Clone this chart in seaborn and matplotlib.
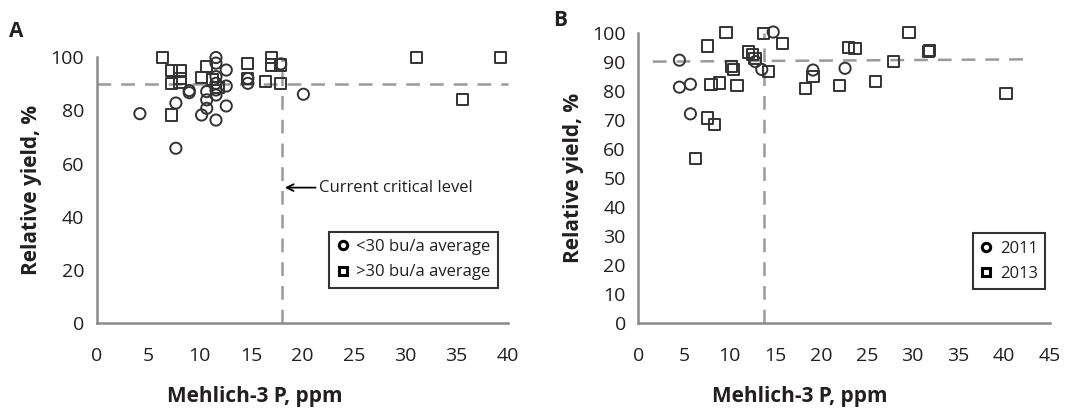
import matplotlib
matplotlib.use('Agg')
import matplotlib.pyplot as plt
from matplotlib.lines import Line2D
import seaborn as sns
import pandas as pd

# ---- data ----
# Panel A: Mehlich-3 P (ppm) vs relative yield (%)
a_low_x = [4.2, 7.7, 7.7, 9.0, 9.0, 10.2, 10.7, 10.7, 10.7, 11.6, 11.6, 11.6,
           11.6, 11.6, 11.6, 11.6, 12.6, 12.6, 12.6, 14.7, 14.7, 17.9, 20.1]
a_low_y = [78.8, 82.8, 65.8, 86.7, 87.5, 78.3, 87.1, 84.0, 80.8, 76.4, 99.9, 97.8,
           92.7, 90.2, 87.7, 85.8, 95.2, 89.2, 81.7, 90.2, 92.0, 97.5, 86.1]
a_high_x = [6.4, 7.3, 7.3, 7.3, 8.1, 8.1, 8.1, 10.2, 10.7, 11.3, 11.8, 14.7,
            14.7, 16.4, 17.0, 17.0, 17.9, 17.9, 31.1, 35.6, 39.3]
a_high_y = [99.9, 94.9, 90.2, 78.3, 94.9, 92.1, 90.4, 92.5, 96.5, 91.5, 88.5, 97.7,
            92.1, 90.8, 100.0, 97.1, 97.1, 90.2, 100.0, 84.2, 100.0]
a_groups = ['<30 bu/a average', '>30 bu/a average']
a_critical_p = 18
a_critical_ry = 90

# Panel B
b_2011_x = [4.5, 4.5, 5.7, 5.7, 12.8, 13.5, 14.75, 19.1, 22.6]
b_2011_y = [90.7, 81.4, 82.4, 72.2, 90.2, 87.5, 100.4, 87.3, 87.9]
b_2013_x = [6.3, 7.55, 7.55, 8.35, 7.95, 8.9, 9.6, 10.2, 10.45, 10.8, 12.05, 12.45,
            12.75, 13.7, 14.2, 15.75, 18.3, 19.1, 22.0, 22.95, 23.7, 25.9, 27.9,
            29.6, 31.7, 31.85, 40.2]
b_2013_y = [56.7, 95.6, 70.8, 68.6, 82.4, 82.8, 100.3, 88.4, 87.6, 81.9, 93.5, 92.7,
            91.4, 99.8, 86.9, 96.5, 81.0, 85.0, 81.9, 95.2, 94.8, 83.3, 90.2,
            100.3, 93.6, 93.9, 79.1]
b_groups = ['2011', '2013']
b_critical_p = 13.7
b_ry_line_x = [1.6, 43.0]
b_ry_line_y = [90.2, 91.0]

df_a = pd.DataFrame({
    'p': a_low_x + a_high_x,
    'ry': a_low_y + a_high_y,
    'grp': [a_groups[0]] * len(a_low_x) + [a_groups[1]] * len(a_high_x),
})
df_b = pd.DataFrame({
    'p': b_2011_x + b_2013_x,
    'ry': b_2011_y + b_2013_y,
    'grp': [b_groups[0]] * len(b_2011_x) + [b_groups[1]] * len(b_2013_x),
})

sns.set_style('white')
plt.rcParams['font.family'] = ['Open Sans', 'DejaVu Sans']

AXIS_GRAY = '#8a8a8a'
DASH_GRAY = '#9a9a9a'
MARK = '#333333'
TXT = '#231f20'

fig = plt.figure(figsize=(10.65, 4.15), dpi=100)
ax_a = fig.add_axes([0.0908, 0.221, 0.3862, 0.641])
ax_b = fig.add_axes([0.5993, 0.221, 0.3866, 0.699])


def style_axis(ax, label_x):
    for s in ['top', 'right']:
        ax.spines[s].set_visible(False)
    for s in ['left', 'bottom']:
        ax.spines[s].set_color(AXIS_GRAY)
        ax.spines[s].set_linewidth(1.8)
    ax.tick_params(direction='inout', length=16, width=1.8, color=AXIS_GRAY,
                   labelsize=14, labelcolor=TXT, pad=1)
    ax.tick_params(axis='x', pad=9)
    ax.set_xlabel('Mehlich-3 P, ppm', fontsize=15, fontweight='bold',
                  labelpad=12, color=TXT)
    ax.xaxis.set_label_coords(label_x, -0.235 * 0.641 / ax.get_position().height)
    ax.set_ylabel('Relative yield, %', fontsize=15, fontweight='bold',
                  labelpad=6, color=TXT)


def open_markers(ax):
    for coll in ax.collections:
        coll.set_facecolor('none')
        coll.set_edgecolor(MARK)
        coll.set_linewidth(1.4)
        coll.set_clip_on(False)


def add_legend(ax, labels, anchor):
    handles = [Line2D([], [], ls='none', marker=m, ms=6, mfc='none', mec='black',
                      mew=2.2, label=l) for m, l in zip(['o', 's'], labels)]
    leg = ax.legend(handles=handles, loc='lower left', bbox_to_anchor=anchor,
                    frameon=True, fontsize=12, handlelength=0.7,
                    handletextpad=0.45, borderpad=0.45, labelspacing=0.55,
                    borderaxespad=0, fancybox=False)
    for t in leg.get_texts():
        t.set_color(TXT)
    leg.get_frame().set_edgecolor('black')
    leg.get_frame().set_linewidth(1.5)


# ---- Panel A ----
sns.scatterplot(data=df_a, x='p', y='ry', style='grp', markers=['o', 's'],
                s=65, ax=ax_a, legend=False)
open_markers(ax_a)
ax_a.plot([0, 40], [a_critical_ry, a_critical_ry], color=DASH_GRAY, lw=1.8,
          dashes=(5.5, 4), zorder=0, clip_on=False)
ax_a.plot([a_critical_p, a_critical_p], [0, 100], color=DASH_GRAY, lw=1.8,
          dashes=(5.5, 4), zorder=0, clip_on=False)
ax_a.set_xlim(0, 40)
ax_a.set_ylim(0, 100)
ax_a.set_xticks(range(0, 41, 5))
ax_a.set_yticks(range(0, 101, 20))
style_axis(ax_a, 0.385)
ax_a.annotate('Current critical level', xy=(a_critical_p + 0.3, 51),
              xytext=(21.6, 51), fontsize=12, va='center', color=TXT,
              arrowprops=dict(arrowstyle='->', color='black', lw=1.3,
                              shrinkA=0, shrinkB=0))
add_legend(ax_a, a_groups, (0.5655, 0.133))

# ---- Panel B ----
sns.scatterplot(data=df_b, x='p', y='ry', style='grp', markers=['o', 's'],
                s=65, ax=ax_b, legend=False)
open_markers(ax_b)
ax_b.plot(b_ry_line_x, b_ry_line_y, color=DASH_GRAY, lw=1.8,
          dashes=(5.5, 4), zorder=0, clip_on=False)
ax_b.plot([b_critical_p, b_critical_p], [0, 100], color=DASH_GRAY, lw=1.8,
          dashes=(5.5, 4), zorder=0, clip_on=False)
ax_b.set_xlim(0, 45)
ax_b.set_ylim(0, 100)
ax_b.set_xticks(range(0, 46, 5))
ax_b.set_yticks(range(0, 101, 10))
style_axis(ax_b, 0.393)
add_legend(ax_b, b_groups, (0.813, 0.117))

fig.text(0.008, 0.925, 'A', fontsize=15, fontweight='bold', va='center', color=TXT)
fig.text(0.519, 0.95, 'B', fontsize=15, fontweight='bold', va='center', color=TXT)

fig.savefig('out.png', dpi=100, facecolor='white')
